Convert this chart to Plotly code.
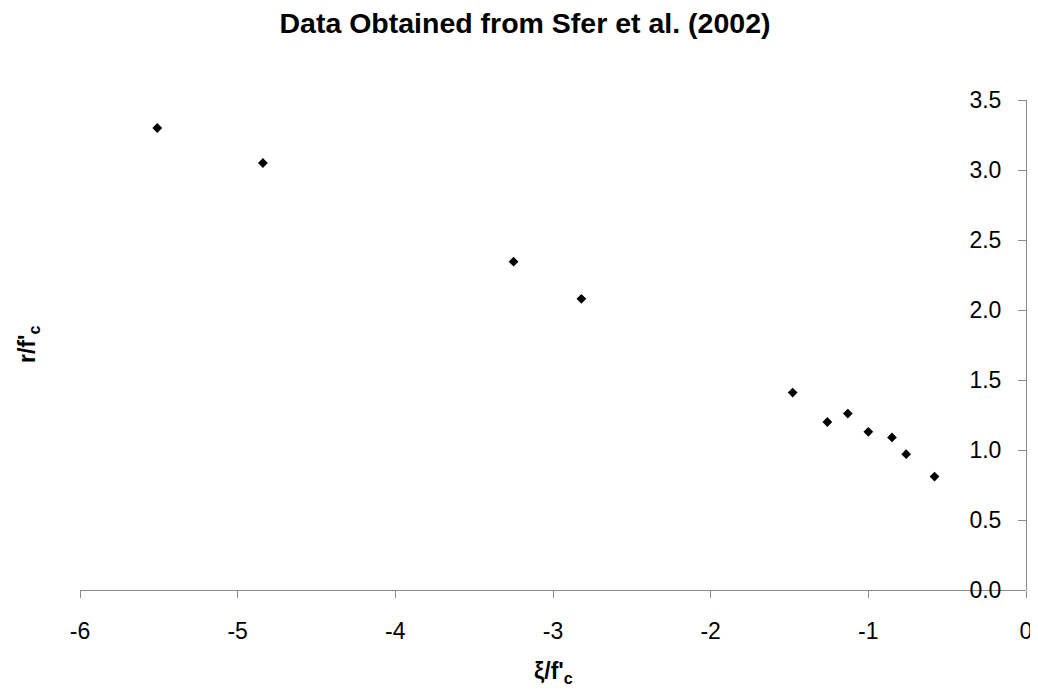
import plotly.graph_objects as go

# Data
xi_over_fc = [-5.51, -4.84, -3.25, -2.82, -1.48, -1.26, -1.13, -1.00, -0.85, -0.76, -0.58]
r_over_fc = [3.30, 3.05, 2.345, 2.08, 1.41, 1.20, 1.26, 1.13, 1.09, 0.97, 0.81]

x_tickvals = [-6, -5, -4, -3, -2, -1, 0]
x_ticktext = ["-6", "-5", "-4", "-3", "-2", "-1", "0"]
y_tickvals = [0.0, 0.5, 1.0, 1.5, 2.0, 2.5, 3.0, 3.5]
y_ticktext = ["0.0", "0.5", "1.0", "1.5", "2.0", "2.5", "3.0", "3.5"]

title_text = "<b>Data Obtained from Sfer et al. (2002)</b>"
x_title = "<b>ξ/f'<sub>c</sub></b>"
y_title = "<b>r/f'<sub>c</sub></b>"

FONT = "Liberation Sans, Arial, sans-serif"
AXIS_COLOR = "#8a8a8a"

# The page body has an 8px margin, so the figure is sized to fit the window.
W, H = 1030, 686

fig = go.Figure()
fig.add_trace(go.Scatter(
    x=xi_over_fc, y=r_over_fc, mode="markers",
    marker=dict(symbol="diamond", size=7.5, color="black", line=dict(width=0)),
    showlegend=False, hoverinfo="x+y",
))

fig.update_layout(
    width=W, height=H,
    margin=dict(l=72, r=12, t=92, b=104, autoexpand=False),
    paper_bgcolor="white", plot_bgcolor="white",
    font=dict(family=FONT, color="black", size=23),
    title=dict(text=title_text, font=dict(family=FONT, size=28.5, color="black"),
               x=517 / W, xref="container", xanchor="center",
               y=1 - 5 / H, yref="container", yanchor="top", automargin=False),
    xaxis=dict(range=[-6, 0], tickvals=x_tickvals, ticktext=x_ticktext,
               showgrid=False, zeroline=False, showline=True, linecolor=AXIS_COLOR,
               linewidth=1, ticks="outside", ticklen=7, tickcolor=AXIS_COLOR,
               tickfont=dict(size=23, color="black"), ticklabelstandoff=13,
               automargin=False),
    yaxis=dict(range=[0, 3.5], tickvals=y_tickvals, ticktext=y_ticktext,
               side="left", anchor="free", position=1.0,
               showgrid=False, zeroline=False, showline=True,
               linecolor=AXIS_COLOR, linewidth=1, ticks="outside", ticklen=8,
               tickcolor=AXIS_COLOR, tickfont=dict(size=23, color="black"),
               ticklabelstandoff=12, automargin=False),
    annotations=[
        dict(text=x_title, xref="paper", yref="paper", x=0.5, y=-(672 - 590) / 490,
             xanchor="center", yanchor="middle", showarrow=False,
             font=dict(size=23, family=FONT, color="black")),
        dict(text=y_title, xref="paper", yref="paper", x=(28 - 80) / 946, y=0.5,
             xanchor="center", yanchor="middle", textangle=-90, showarrow=False,
             font=dict(size=23, family=FONT, color="black")),
    ],
)

fig.write_html("out.html")
